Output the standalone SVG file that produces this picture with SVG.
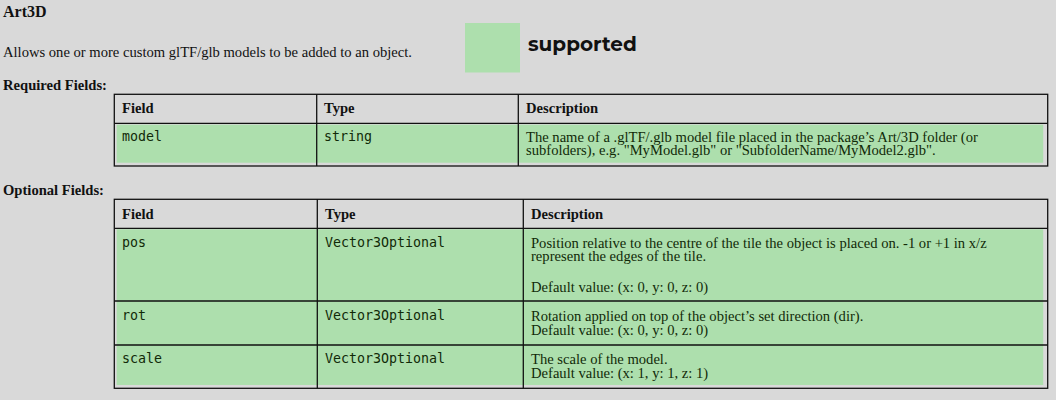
<svg xmlns="http://www.w3.org/2000/svg" width="1056" height="400" viewBox="0 0 1056 400">
<style>
.t{font-family:"Liberation Serif","Times New Roman",serif;font-size:14.6px;fill:#111}
.b{font-weight:bold}
.c{font-family:"Liberation Serif","Times New Roman",serif;font-size:14.6px;fill:#112a08}
.m{font-family:"DejaVu Sans Mono",monospace;font-size:13.3px;fill:#112a08}
.g{fill:#addfad}
.ln{stroke:#111;stroke-width:1.3;fill:none}
</style>
<rect width="1056" height="400" fill="#d9d9d9"/>
<g id="header">
<text class="t b" x="3" y="17" style="font-size:16px">Art3D</text>
<text class="t" x="3" y="57.3">Allows one or more custom glTF/glb models to be added to an object.</text>
<rect class="g" x="465" y="23" width="55" height="49.5"/>
<text x="528" y="51" font-family="Montserrat,Inter,'Noto Sans',sans-serif" font-weight="bold" font-size="20" fill="#111">supported</text>
<text class="t b" x="3" y="89.5">Required Fields:</text>
<text class="t b" x="3" y="194.5">Optional Fields:</text>
</g>
<g id="required-table">
<rect class="g" x="116.7" y="124.7" width="926.5" height="38"/>
<rect class="ln" x="114.3" y="94.3" width="933.4" height="71.7"/>
<line class="ln" x1="114.3" y1="123.3" x2="1047.7" y2="123.3"/>
<line class="ln" x1="316.7" y1="94.3" x2="316.7" y2="166"/>
<line class="ln" x1="518.3" y1="94.3" x2="518.3" y2="166"/>
<text class="t b" x="122" y="112.7">Field</text>
<text class="t b" x="324" y="112.7">Type</text>
<text class="t b" x="526" y="112.7">Description</text>
<text class="m" x="122" y="140.7">model</text>
<text class="m" x="324" y="140.7">string</text>
<text class="c" x="526" y="141.5">The name of a .glTF/.glb model file placed in the package’s Art/3D folder (or</text>
<text class="c" x="526" y="154.8">subfolders), e.g. "MyModel.glb" or "SubfolderName/MyModel2.glb".</text>
</g>
<g id="optional-table">
<rect class="g" x="116.7" y="229.3" width="926.5" height="155.7"/>
<rect class="ln" x="114.3" y="199.3" width="933.4" height="189"/>
<line class="ln" x1="114.3" y1="228.3" x2="1047.7" y2="228.3"/>
<line class="ln" x1="114.3" y1="301" x2="1047.7" y2="301"/>
<line class="ln" x1="114.3" y1="345" x2="1047.7" y2="345"/>
<line class="ln" x1="317.3" y1="199.3" x2="317.3" y2="388.3"/>
<line class="ln" x1="523.3" y1="199.3" x2="523.3" y2="388.3"/>
<text class="t b" x="122" y="219">Field</text>
<text class="t b" x="325" y="219">Type</text>
<text class="t b" x="531" y="219">Description</text>
<text class="m" x="122" y="246.7">pos</text>
<text class="m" x="325" y="246.7">Vector3Optional</text>
<text class="c" x="531" y="247.5">Position relative to the centre of the tile the object is placed on. -1 or +1 in x/z</text>
<text class="c" x="531" y="261">represent the edges of the tile.</text>
<text class="c" x="531" y="292.3">Default value: (x: 0, y: 0, z: 0)</text>
<text class="m" x="122" y="319.5">rot</text>
<text class="m" x="325" y="319.5">Vector3Optional</text>
<text class="c" x="531" y="320.6">Rotation applied on top of the object’s set direction (dir).</text>
<text class="c" x="531" y="334.5">Default value: (x: 0, y: 0, z: 0)</text>
<text class="m" x="122" y="363">scale</text>
<text class="m" x="325" y="363">Vector3Optional</text>
<text class="c" x="531" y="364.2">The scale of the model.</text>
<text class="c" x="531" y="378.2">Default value: (x: 1, y: 1, z: 1)</text>
</g>
</svg>
